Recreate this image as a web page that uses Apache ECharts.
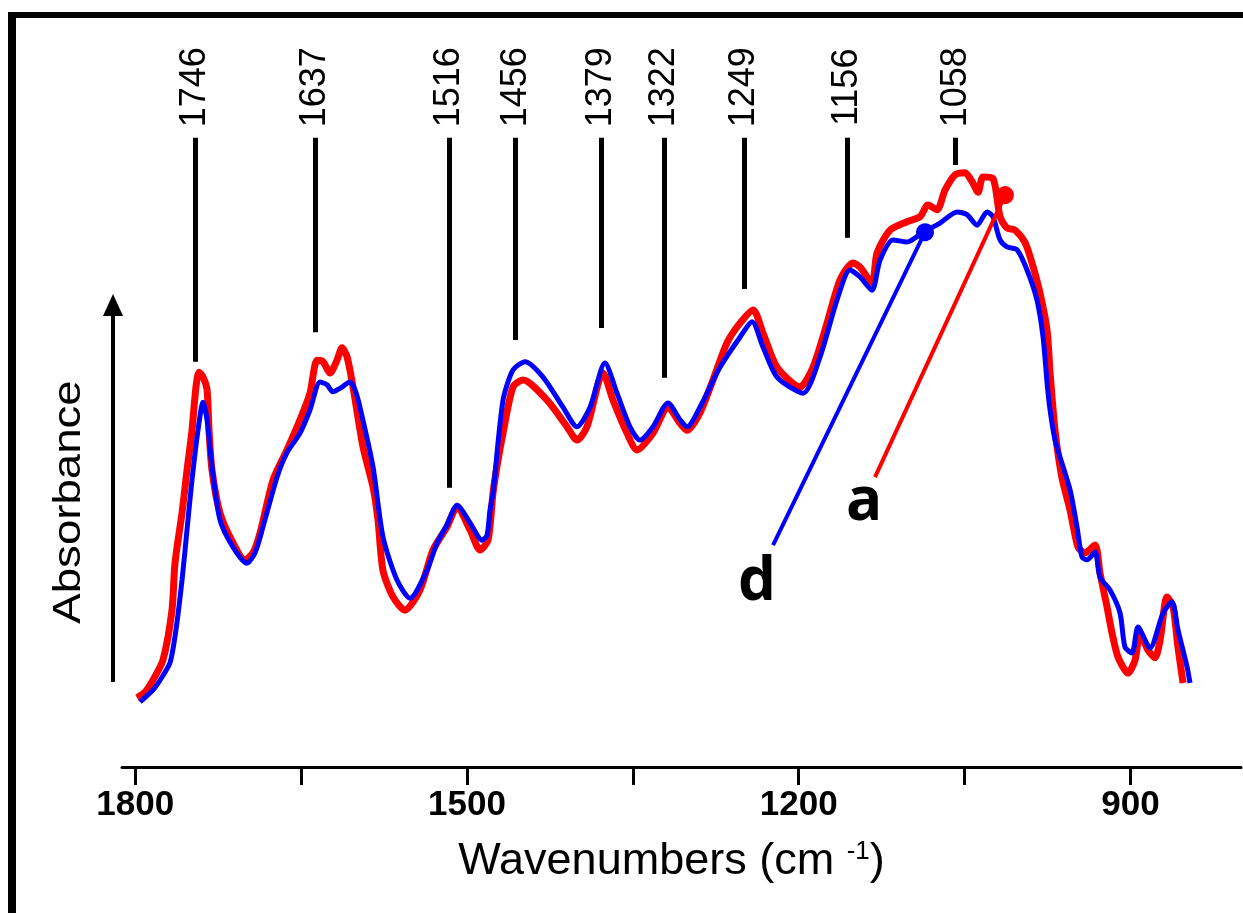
<!DOCTYPE html>
<html>
<head>
<meta charset="utf-8">
<title>FTIR spectra a and d</title>
<script src="https://cdn.jsdelivr.net/npm/echarts@6/dist/echarts.min.js"></script>
<style>
  html, body { margin: 0; padding: 0; background: #fff; }
  #chart { width: 1243px; height: 913px; }
</style>
</head>
<body>
<div id="chart"></div>
<script>
// spectrum a (red): wavenumber (cm-1) and absorbance (arb. units)
const waveA = [1798.4, 1791.2, 1784.0, 1774.9, 1766.8, 1764.1, 1757.7, 1753.2, 1748.7, 1745.1, 1742.4, 1738.7, 1735.1, 1733.3, 1730.6,
  1723.4, 1711.6, 1700.8, 1693.5, 1687.2, 1675.4, 1662.8, 1651.0, 1642.0, 1635.6, 1630.2, 1623.9, 1617.6, 1613.0, 1608.5,
  1603.1, 1594.0, 1585.0, 1580.5, 1576.0, 1566.9, 1556.1, 1542.5, 1530.7, 1518.1, 1509.0, 1497.3, 1488.2, 1481.0, 1476.5,
  1472.9, 1467.4, 1458.4, 1449.3, 1427.6, 1409.5, 1400.5, 1391.5, 1377.0, 1367.9, 1355.3, 1346.2, 1331.8, 1318.2, 1307.3,
  1301.0, 1289.3, 1277.5, 1264.8, 1253.1, 1241.3, 1232.3, 1219.6, 1198.8, 1187.1, 1174.4, 1162.6, 1150.9, 1144.5, 1133.7,
  1129.2, 1117.4, 1102.0, 1090.3, 1083.1, 1074.9, 1067.7, 1058.6, 1049.6, 1042.4, 1037.8, 1033.3, 1024.3, 1017.9, 1011.6,
  1004.4, 995.3, 989.0, 981.8, 975.4, 972.7, 968.2, 961.9, 954.6, 947.4, 941.1, 932.0, 927.5, 921.2, 916.6,
  911.2, 902.2, 895.8, 891.3, 884.1, 877.8, 873.2, 866.9, 861.5, 857.0, 852.4];
const absA = [9.9, 10.7, 12.4, 15.3, 22.4, 29.1, 36.3, 42.4, 48.1, 54.3, 56.4, 55.7, 53.9, 48.1, 42.4,
  36.3, 32.0, 29.6, 30.6, 33.4, 41.0, 45.3, 49.6, 53.4, 58.1, 57.9, 56.3, 58.1, 59.9, 58.6,
  54.3, 45.7, 40.0, 35.3, 28.1, 24.3, 22.4, 25.3, 31.0, 34.3, 37.1, 33.9, 31.0, 32.4, 39.1,
  42.9, 47.7, 54.3, 55.3, 52.4, 48.6, 46.7, 48.6, 56.3, 52.4, 47.7, 45.3, 47.7, 51.4, 49.1,
  48.1, 50.6, 55.3, 60.6, 63.4, 65.3, 62.0, 57.1, 54.3, 57.1, 63.4, 69.6, 72.0, 71.4, 69.1,
  73.4, 76.7, 77.9, 78.6, 80.3, 79.6, 82.4, 84.6, 84.9, 83.4, 82.1, 84.3, 84.1, 78.6, 77.0,
  76.7, 74.9, 72.0, 67.7, 62.4, 56.4, 48.1, 41.3, 36.7, 31.4, 30.6, 31.7, 27.7, 22.9, 19.1,
  15.7, 13.4, 15.3, 19.1, 16.7, 15.6, 18.1, 24.3, 22.9, 17.1, 12.0];

// spectrum d (blue)
const waveD = [1795.7, 1784.0, 1777.6, 1768.6, 1763.2, 1757.7, 1753.2, 1748.7, 1743.3, 1738.7, 1735.1, 1730.6, 1723.4, 1711.6, 1699.0,
  1691.7, 1684.5, 1671.8, 1662.8, 1651.0, 1642.0, 1632.9, 1626.6, 1621.2, 1614.8, 1605.8, 1601.3, 1596.8, 1585.0, 1576.0,
  1563.3, 1551.5, 1536.2, 1527.1, 1518.1, 1509.0, 1497.3, 1486.4, 1481.9, 1479.2, 1476.5, 1467.4, 1458.4, 1447.5, 1431.2,
  1413.2, 1400.5, 1388.7, 1375.2, 1364.3, 1352.6, 1343.5, 1331.8, 1318.2, 1307.3, 1301.0, 1289.3, 1271.2, 1253.1, 1242.2,
  1232.3, 1219.6, 1196.1, 1180.7, 1165.4, 1153.6, 1144.5, 1133.7, 1126.5, 1114.7, 1102.0, 1087.6, 1072.2, 1056.8, 1047.8,
  1038.7, 1029.7, 1024.3, 1017.9, 1011.6, 1002.6, 993.5, 984.5, 979.0, 975.4, 972.7, 968.2, 963.7, 954.6, 948.3,
  943.8, 939.3, 932.0, 927.5, 918.5, 909.4, 904.9, 898.6, 893.1, 882.3, 870.5, 862.4, 857.0, 848.8, 846.1];
const absD = [9.3, 11.0, 12.4, 14.9, 19.6, 26.7, 33.9, 41.0, 48.1, 52.1, 49.6, 42.9, 35.3, 31.4, 29.1,
  30.6, 34.3, 41.4, 44.9, 47.7, 51.0, 55.0, 54.6, 53.6, 54.1, 55.0, 53.9, 51.4, 42.9, 32.9,
  26.7, 24.1, 28.1, 32.0, 34.6, 37.4, 34.9, 32.4, 33.1, 36.7, 39.1, 52.4, 56.7, 57.9, 55.7,
  51.4, 48.6, 51.4, 57.7, 53.4, 48.6, 46.7, 48.6, 52.0, 49.6, 48.6, 51.4, 57.1, 61.4, 63.6,
  60.0, 55.7, 53.4, 58.6, 66.7, 71.0, 70.0, 68.1, 72.4, 75.3, 75.0, 76.4, 77.7, 79.3, 78.9,
  77.4, 79.3, 78.6, 75.3, 74.3, 73.9, 71.0, 66.7, 61.4, 54.9, 51.0, 46.7, 44.3, 39.6, 34.3,
  30.0, 29.6, 30.7, 27.1, 25.3, 22.0, 17.1, 16.3, 20.0, 17.0, 22.0, 23.6, 19.6, 14.3, 12.0];

// marked bands: position, where the marker line stops above the curve
const peakWaves = [1746, 1637, 1516, 1456, 1379, 1322, 1249, 1156, 1058];
const peakLineEnds = [57.9, 62.1, 39.9, 61.0, 62.7, 55.6, 68.3, 75.6, 86.0];
const peakLineTop = 89.9;
const peakLabelLevel = 97.1;

// x axis ticks
const tickValues = [1800, 1650, 1500, 1350, 1200, 1050, 900];
const tickLabels = [1800, 1500, 1200, 900];

// curve labels and their leader lines (label end, curve end)
const leaderA = [[1131.0, 41.4], [1013.4, 81.7]];
const leaderD = [[1223.2, 31.7], [1085.8, 76.4]];
const labelA = [1140.9, 37.7];
const labelD = [1237.7, 26.3];

const pairs = (xs, ys) => xs.map((x, i) => [x, ys[i]]);

const chart = echarts.init(document.getElementById('chart'));

// leader line from the label to a dot on the curve
const leader = (pts, color) => ({
  silent: true,
  symbol: ['none', 'circle'],
  symbolSize: 18,
  label: { show: false },
  lineStyle: { color: color, width: 4, type: 'solid', opacity: 1 },
  itemStyle: { color: color, opacity: 1 },
  data: [[
    { coord: pts[0], symbol: 'none' },
    { coord: pts[1], symbol: 'circle', symbolSize: 18, itemStyle: { color: color } }
  ]]
});

const option = {
  animation: false,
  backgroundColor: '#fff',
  grid: { left: 122, right: 2, top: 67, bottom: 146 },
  xAxis: {
    type: 'value',
    inverse: true,
    min: 800,
    max: 1812,
    interval: 50,
    name: 'Wavenumbers (cm {sup|-1}{m|)}',
    nameLocation: 'middle',
    nameGap: 72,
    nameTextStyle: {
      color: '#000',
      fontFamily: 'Liberation Sans',
      fontSize: 45,
      padding: [0, 20, 0, 0],
      rich: {
        sup: { fontFamily: 'Liberation Sans', fontSize: 26, color: '#000', verticalAlign: 'top' },
        m: { fontFamily: 'Liberation Sans', fontSize: 45, color: '#000' }
      }
    },
    axisLine: { show: true, onZero: false, lineStyle: { color: '#000', width: 3 } },
    axisTick: { show: true, length: 18, customValues: tickValues, lineStyle: { color: '#000', width: 3 } },
    axisLabel: {
      customValues: tickLabels,
      formatter: v => String(v),
      margin: 21,
      color: '#000',
      fontFamily: 'Liberation Sans',
      fontWeight: 'bold',
      fontSize: 35
    },
    splitLine: { show: false }
  },
  yAxis: {
    type: 'value',
    min: 0,
    max: 100,
    show: false
  },
  series: [
    {
      name: 'a',
      type: 'line',
      data: pairs(waveA, absA),
      showSymbol: false,
      smooth: 0.25,
      lineStyle: { color: '#ff0000', width: 7 },
      itemStyle: { color: '#ff0000' },
      z: 3,
      markLine: leader(leaderA, '#ff0000')
    },
    {
      name: 'd',
      type: 'line',
      data: pairs(waveD, absD),
      showSymbol: false,
      smooth: 0.25,
      lineStyle: { color: '#0000ff', width: 5 },
      itemStyle: { color: '#0000ff' },
      z: 4,
      markLine: leader(leaderD, '#0000ff')
    },
    {
      name: 'bands',
      type: 'line',
      data: [],
      silent: true,
      markLine: {
        silent: true,
        symbol: 'none',
        label: { show: false },
        lineStyle: { color: '#000', width: 5, type: 'solid', opacity: 1 },
        data: peakWaves.map((w, i) => [{ coord: [w, peakLineEnds[i]] }, { coord: [w, peakLineTop] }])
      }
    },
    {
      name: 'bandLabels',
      type: 'scatter',
      silent: true,
      symbolSize: 0,
      itemStyle: { opacity: 1 },
      data: peakWaves.map(w => [w, peakLabelLevel]),
      label: {
        show: true,
        position: 'inside',
        rotate: 90,
        formatter: p => String(p.value[0]),
        color: '#000',
        fontFamily: 'Liberation Sans',
        fontSize: 36
      }
    },
    {
      name: 'curveLabels',
      type: 'scatter',
      silent: true,
      symbolSize: 0,
      itemStyle: { opacity: 1 },
      data: [{ name: 'a', value: labelA }, { name: 'd', value: labelD }],
      label: {
        show: true,
        position: 'inside',
        formatter: '{b}',
        color: '#000',
        fontFamily: 'Open Sans',
        fontWeight: 'bold',
        fontSize: 60
      }
    }
  ],
  graphic: [
    // frame, top and left edges
    { type: 'rect', shape: { x: 8, y: 12, width: 1235, height: 6 }, style: { fill: '#000' } },
    { type: 'rect', shape: { x: 8, y: 12, width: 8, height: 901 }, style: { fill: '#000' } },
    // absorbance arrow
    { type: 'line', shape: { x1: 113, y1: 682, x2: 113, y2: 312 }, style: { stroke: '#000', lineWidth: 4 } },
    { type: 'polygon', shape: { points: [[103, 316], [113, 294], [123, 316]] }, style: { fill: '#000' } },
    {
      type: 'text',
      x: 70,
      y: 502,
      rotation: Math.PI / 2,
      scaleX: 1.2,
      style: {
        text: 'Absorbance',
        fontFamily: 'Liberation Sans',
        fontSize: 38,
        fill: '#000',
        align: 'center',
        verticalAlign: 'middle',
        textAlign: 'center',
        textVerticalAlign: 'middle'
      }
    }
  ]
};

chart.setOption(option);
</script>
</body>
</html>
